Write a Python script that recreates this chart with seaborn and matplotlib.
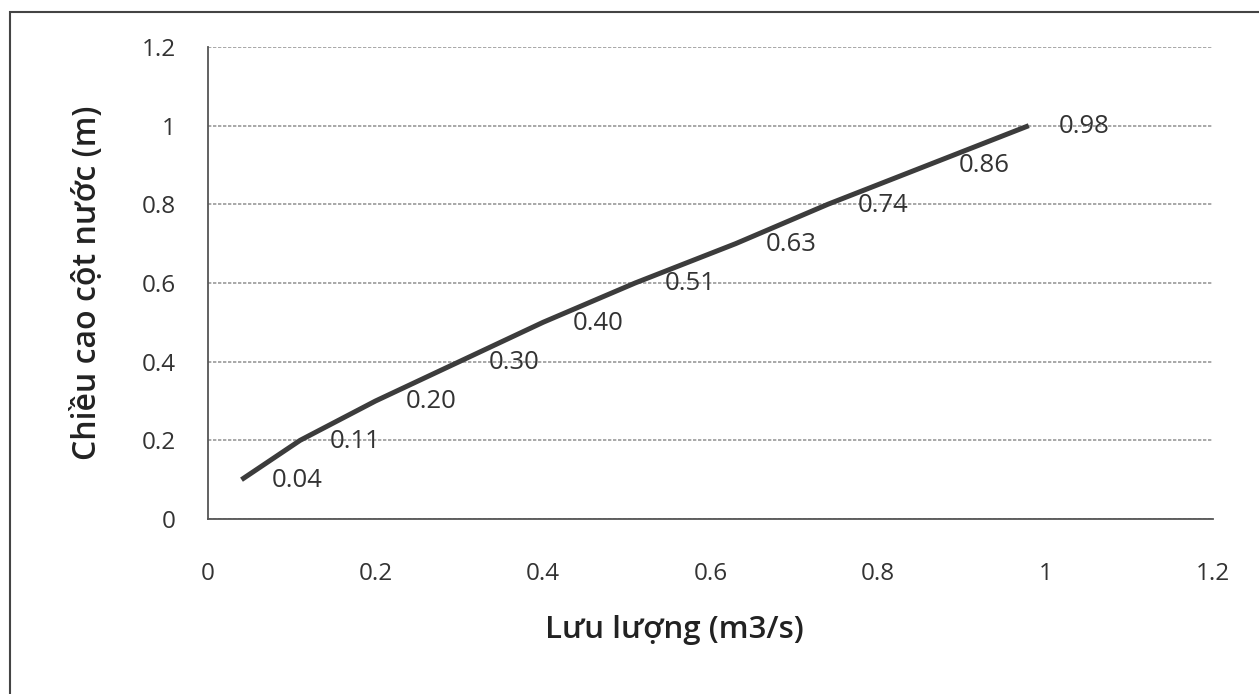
import matplotlib
matplotlib.use("Agg")
import matplotlib.pyplot as plt
import seaborn as sns
import pandas as pd
from matplotlib.patches import Rectangle

# Data
flow = [0.04, 0.11, 0.20, 0.30, 0.40, 0.51, 0.63, 0.74, 0.86, 0.98]
height = [0.1, 0.2, 0.3, 0.4, 0.5, 0.6, 0.7, 0.8, 0.9, 1.0]
point_labels = ["0.04", "0.11", "0.20", "0.30", "0.40", "0.51", "0.63", "0.74", "0.86", "0.98"]
x_ticks = [0, 0.2, 0.4, 0.6, 0.8, 1, 1.2]
y_ticks = [0, 0.2, 0.4, 0.6, 0.8, 1, 1.2]
x_tick_labels = ["0", "0.2", "0.4", "0.6", "0.8", "1", "1.2"]
y_tick_labels = ["0", "0.2", "0.4", "0.6", "0.8", "1", "1.2"]
x_title = "Lưu lượng (m3/s)"
y_title = "Chiều cao cột nước (m)"

sns.set_theme(style="white")
plt.rcParams['font.family'] = ['Open Sans', 'DejaVu Sans']

df = pd.DataFrame({"flow": flow, "height": height})

fig = plt.figure(figsize=(12.59, 6.94), dpi=100)
ax = fig.add_axes([208/1259, 1 - 519/694, (1213-208)/1259, (519-47)/694])

sns.lineplot(data=df, x="flow", y="height", ax=ax, color="#3c3c3c", linewidth=3.6,
             zorder=3, solid_capstyle="butt")

for xv, yv, lab in zip(flow, height, point_labels):
    ax.annotate(lab, (xv, yv), xytext=(30, -1), textcoords="offset pixels",
                ha="left", va="center", fontsize=18.5, color="#333333", zorder=4)

ax.set_xlim(0, 1.2)
ax.set_ylim(0, 1.2)
ax.set_xticks(x_ticks)
ax.set_xticklabels(x_tick_labels)
ax.set_yticks(y_ticks)
ax.set_yticklabels(y_tick_labels)
ax.tick_params(axis="x", length=0, pad=31, labelsize=17.5, colors="#333333")
ax.tick_params(axis="y", length=0, pad=23, labelsize=17.5, colors="#333333")
ax.yaxis.grid(True, color="#9a9a9a", linewidth=1.2, linestyle=(0, (2, 1)))
ax.xaxis.grid(False)

for s in ["top", "right"]:
    ax.spines[s].set_visible(False)
for s in ["left", "bottom"]:
    ax.spines[s].set_color("#555555")
    ax.spines[s].set_linewidth(1.3)

ax.set_xlabel(x_title, fontsize=22.5, fontweight="semibold", color="#222222")
ax.xaxis.label.set_va("center")
ax.xaxis.set_label_coords((674 - 208) / 1005, (519 - 630) / 472)
ax.set_ylabel(y_title, fontsize=23, fontweight="semibold", color="#222222", labelpad=27)

# outer chart border (partially visible as in the scan)
fig.patches.append(Rectangle((10/1259, -0.05), 1.2, 1 - 12/694 + 0.05, transform=fig.transFigure,
                             fill=False, edgecolor="#444444", linewidth=1.5))

fig.savefig("out.png", dpi=100, facecolor="white")
